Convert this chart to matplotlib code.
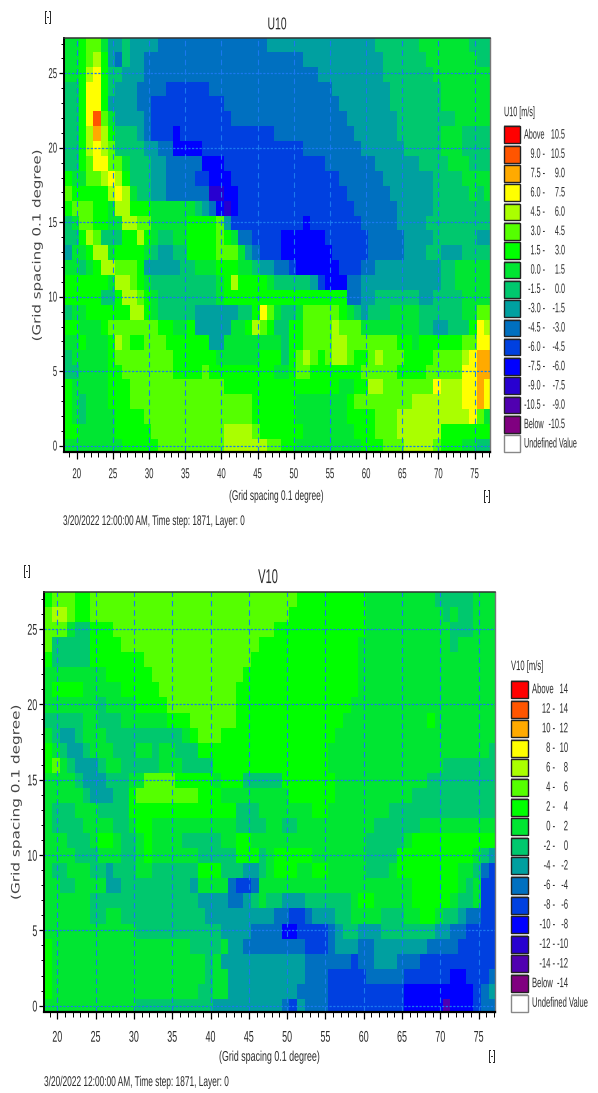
import numpy as np
import matplotlib
matplotlib.use('Agg')
import matplotlib.pyplot as plt
from matplotlib.colors import ListedColormap, BoundaryNorm
from matplotlib.patches import Rectangle
from matplotlib.patheffects import AbstractPathEffect
from matplotlib.transforms import Affine2D

W, H = 598, 1093
FONT = 'Liberation Sans'

# class letters, highest class first
class_letters = 'abcdefghijklmnop'
class_colors = ['#ff0000', '#ff5500', '#ffaa00', '#ffff00', '#aaff00', '#55ff00', '#00ff00', '#00e632',
                '#00c86e', '#00a0a0', '#0070c0', '#0040e0', '#0000ff', '#2800d0', '#5000b0', '#800080']

u10_legend = [('Above', '10.5'), ('9.0 -', '10.5'), ('7.5 -', '9.0'), ('6.0 -', '7.5'), ('4.5 -', '6.0'),
              ('3.0 -', '4.5'), ('1.5 -', '3.0'), ('0.0 -', '1.5'), ('-1.5 -', '0.0'), ('-3.0 -', '-1.5'),
              ('-4.5 -', '-3.0'), ('-6.0 -', '-4.5'), ('-7.5 -', '-6.0'), ('-9.0 -', '-7.5'),
              ('-10.5 -', '-9.0'), ('Below', '-10.5')]
v10_legend = [('Above', '14'), ('12 -', '14'), ('10 -', '12'), ('8 -', '10'), ('6 -', '8'), ('4 -', '6'),
              ('2 -', '4'), ('0 -', '2'), ('-2 -', '0'), ('-4 -', '-2'), ('-6 -', '-4'), ('-8 -', '-6'),
              ('-10 -', '-8'), ('-12 -', '-10'), ('-14 -', '-12'), ('Below', '-14')]

x_ticks = [20, 25, 30, 35, 40, 45, 50, 55, 60, 65, 70, 75]
y_ticks = [0, 5, 10, 15, 20, 25]
stamp = '3/20/2022 12:00:00 AM, Time step: 1871, Layer: 0'

# wind classes per grid row, row 27 down to row 0, as letter + run length
u10_rows = [
    'h2 g1 f2 h1 j2 i1 j4 k15 j15 i6 h7 i3',
    'h2 g1 f1 e1 g1 j1 k1 i1 j2 k22 j11 i6 h7 i2',
    'h2 g1 e1 d1 g1 i2 j3 k24 j9 i7 h8',
    'i2 g1 d2 g1 i1 j3 k4 l6 k17 j8 i7 h7',
    'i2 g1 d2 g1 j4 k2 l10 k16 j7 i7 h7',
    'i2 g1 d1 b1 f1 h1 j4 k1 l11 k16 j7 i8 h5',
    'i2 g1 e1 c1 e1 g1 i3 j1 k1 l3 m1 l13 k11 j6 i6 h3 i4',
    'i2 g1 e1 d1 e1 f1 i4 j2 k2 m4 l14 k8 j6 i5 h3 i4',
    'i2 g1 f1 d2 f2 h1 i3 j2 k5 m3 l14 k7 j6 i4 h3 i3',
    'g1 h2 f2 e1 d1 e1 g1 i3 j2 k4 l2 m3 l15 k6 j7 i4 h4',
    'f1 g5 e1 d1 e1 h1 i2 j2 k6 n2 m2 l15 k6 j6 i5 h1 i1 h1',
    'g1 f3 g2 h1 e2 g3 h6 i1 j1 k1 m1 n1 m1 l16 k6 j5 i8',
    'i1 h1 f2 g2 h2 e2 f2 h5 g4 f1 j1 l10 m1 l7 k5 j4 i9',
    'i2 g1 e1 f1 i3 g2 e1 g1 h1 i2 h2 g4 f1 g1 h1 k2 l4 m6 l6 k5 j4 i6 j2',
    'j1 h2 g1 e2 h1 g4 h1 i1 j2 i2 g4 f3 h1 j1 k1 l3 m7 l5 k5 j3 i2 j3 i4',
    'h2 i1 h1 g1 e2 f3 g1 j5 i2 h3 g3 h2 i1 j2 k2 l1 m6 l3 k2 j9 i2 h5',
    'g6 h1 e2 f1 g1 h1 i9 h1 g1 e1 g4 h1 i5 j1 l1 m3 k2 j11 i2 h5',
    'g5 i2 g1 e2 f1 g1 h1 i8 h1 g17 k2 j2 i6 j2 i4 h4',
    'i1 h2 g6 e2 g1 h1 i5 j6 i2 g1 d1 f1 h1 i2 h1 f5 g1 h1 i1 j1 i3 h4 i6 h2 f2',
    'g2 h3 g1 f7 g2 h2 g1 j5 h2 g1 e1 f1 g1 i2 g2 f4 e1 f3 h8 i2 j2 i3 g1 d1 e1',
    'h2 g1 h3 g1 e1 f1 g2 f3 g6 j2 h8 i1 g2 f4 e2 f7 g2 h1 g6 f2 d2',
    'i1 h5 g1 f8 g6 h6 g3 i1 g1 f1 e1 f1 g1 f1 e2 f1 g2 f1 e1 f3 g4 f4 e1 d1 c2',
    'i2 h4 g2 f7 g4 f1 g9 h2 g1 f2 g7 f5 g4 f5 d2 c2',
    'g1 h5 g3 f13 g16 h2 g2 e2 f7 d1 e3 d2 c1 d1',
    'g1 h1 i1 h3 g3 f17 g6 h7 g1 f8 e7 d2 c1 d1',
    'g1 h1 i1 h4 g4 f15 g6 h7 g4 f3 e10 d1 f1 h1',
    'g2 h5 g5 f10 e4 f1 g6 h7 g3 f3 e6 g7',
    'h8 g5 f9 e6 f2 g2 h9 g3 f3 e4 f1 g3 h2 i2',
]
v10_rows = [
    'g1 f3 g2 f27 g9 h9 i5 h3',
    'f1 e2 f1 g2 f26 g10 h10 i1 h1 i2 h3',
    'f3 h1 i2 g3 f21 g12 h11 i3 h3',
    'f1 i5 g4 f18 g13 h12 i1 h5',
    'g1 i5 g7 f14 g14 h18',
    'h8 g6 f12 g15 h18',
    'h1 g4 h5 g5 f10 g16 h18',
    'h7 i1 h4 g4 f9 g15 h19',
    'i5 h2 i3 h6 g3 f6 g14 h11 g1 h8',
    'h1 i1 j2 i1 h3 i10 h1 g1 f3 g15 h21',
    'g1 h1 i1 j2 i1 h3 i3 h2 i1 h2 i3 g17 h21 i1',
    'g1 f1 h1 i1 j3 i1 h2 i5 h3 i4 g15 h15 i7',
    'h4 i1 j3 i3 h2 f4 g5 h1 g3 i5 g7 h12 i9',
    'h5 i1 j3 i2 g1 f8 g3 h9 g6 h10 i11',
    'h1 i3 h3 i4 g14 i3 h7 g2 h8 i14',
    'h1 i4 h4 i2 h1 g2 h11 i4 h2 i2 h10 i6 h10',
    'h3 i3 h1 g2 h1 i2 h1 g1 h4 i5 h2 g2 h15 i5 h1 g11',
    'h4 i3 h3 i2 h1 g1 h6 i5 g3 i1 h1 g5 h7 i4 g10 h1 i1 j1',
    'h1 i2 h3 i2 j1 i3 h2 i6 g3 i3 j2 i1 h1 g3 h2 g2 h5 i3 h1 g8 h2 i1 k1 l1',
    'h2 i2 h4 j2 i9 j1 h4 k1 l2 k1 h20 g6 h1 i1 h1 l2',
    'h6 i14 j4 k2 j1 i1 h1 i2 j3 i6 h1 g2 h5 g5 h1 i2 h1 l2',
    'h6 i2 h2 i11 j9 k2 l2 k1 j3 i2 h4 i3 h2 g2 h1 i2 j1 k2 l2',
    'h12 i11 j4 k4 m2 l1 l3 k1 j1 i2 j3 i7 j2 k2 l4',
    'g1 h18 i4 h1 j2 k8 l3 k1 j3 k2 j7 k4 l5',
    'g1 h20 i1 h1 j11 k6 l1 k2 j3 k3 l10',
    'g1 h20 i1 h2 j10 k3 l5 k5 l6 m2 l3 k1',
    'g1 h19 i2 h2 j9 k4 l10 m9 l1 k1 j1',
    'h12 i10 j9 k1 l1 j1 k3 l10 m5 o1 m3 l1 k2',
]


class Tall(AbstractPathEffect):
    # stretches text across its baseline, the reference was resized unevenly
    def __init__(self, sy):
        super().__init__()
        self.sy = sy

    def draw_path(self, renderer, gc, tpath, affine, rgbFace=None):
        ext = tpath.get_extents()
        mid = (ext.y0 + ext.y1) / 2
        t = Affine2D().translate(0, -mid).scale(1, self.sy).translate(0, mid)
        renderer.draw_path(gc, tpath, t + affine, rgbFace)


def read_rows(rows):
    grid = []
    for r in rows:
        line = []
        for run in r.split():
            line += [class_letters.index(run[0])] * int(run[1:])
        grid.append(line)
    return np.array(grid)[::-1]


def put_text(fig, x, y, s, size, sy, ha='left', **kw):
    t = fig.text(x / W, 1 - y / H, s, fontsize=size, family=FONT, ha=ha, va='center', color='#2b2b2b', **kw)
    t.set_path_effects([Tall(sy)])
    return t


def draw_map(fig, rows, box, xlim, ylim, tick_size, tick_sy, x_pad):
    left, right, top, bottom = box
    ax = fig.add_axes([left / W, 1 - bottom / H, (right - left) / W, (bottom - top) / H])
    grid = read_rows(rows)
    x_edges = 18.3 + np.arange(grid.shape[1] + 1)
    y_edges = -0.55 + np.arange(grid.shape[0] + 1)
    cmap = ListedColormap(class_colors)
    norm = BoundaryNorm(np.arange(17) - 0.5, 16)
    ax.pcolormesh(x_edges, y_edges, grid, cmap=cmap, norm=norm, antialiased=False, zorder=1)
    ax.set_xlim(*xlim)
    ax.set_ylim(*ylim)

    ax.set_xticks(x_ticks)
    ax.set_yticks(y_ticks)
    ax.set_xticks(np.arange(19, 78), minor=True)
    ax.set_yticks(np.arange(0, 28), minor=True)
    ax.tick_params(axis='x', which='major', length=5, width=0.9, pad=x_pad, labelsize=tick_size, labelcolor='#2b2b2b')
    ax.tick_params(axis='y', which='major', length=3.5, width=0.9, pad=1.5, labelsize=tick_size, labelcolor='#2b2b2b')
    ax.tick_params(axis='x', which='minor', length=3.5, width=0.7)
    ax.tick_params(axis='y', which='minor', length=2, width=0.7)
    for lab in ax.get_xticklabels() + ax.get_yticklabels():
        lab.set_family(FONT)
        lab.set_path_effects([Tall(tick_sy)])

    ax.grid(False)
    for v in x_ticks:
        ax.axvline(v, color='#1a78f0', lw=0.8, ls=(0, (5, 3.5)), zorder=2)
    for v in y_ticks:
        ax.axhline(v, color='#1a78f0', lw=0.9, ls=(0, (1.8, 1.2)), zorder=2)

    ax.spines['left'].set_linewidth(1.4)
    ax.spines['bottom'].set_linewidth(1.6)
    ax.spines['top'].set_linewidth(1.1)
    ax.spines['top'].set_color('#333333')
    ax.spines['right'].set_linewidth(1.0)
    ax.spines['right'].set_color('#777777')
    return ax


def draw_legend(fig, title, labels, x0, x1, y0, step, title_y, x_first, x_second, x_word, size, sy):
    put_text(fig, x0, title_y, title, size, sy)
    h = step - 2.6
    for i in range(17):
        top = y0 + i * step
        color = class_colors[i] if i < 16 else 'white'
        fig.add_artist(Rectangle((x0 / W, 1 - (top + h + 1) / H), (x1 - x0) / W, (h + 2) / H,
                                 transform=fig.transFigure, facecolor='#b5b5b5', edgecolor='none'))
        fig.add_artist(Rectangle((x0 / W, 1 - (top + h) / H), (x1 - x0) / W, h / H,
                                 transform=fig.transFigure, facecolor=color,
                                 edgecolor='#222222' if i < 16 else '#888888', lw=1.0))
        cy = top + h / 2
        if i == 16:
            put_text(fig, x_word, cy, 'Undefined Value', size, sy)
            continue
        a, b = labels[i]
        if a in ('Above', 'Below'):
            put_text(fig, x_word, cy, a, size, sy)
        else:
            put_text(fig, x_first, cy, a, size, sy, ha='right')
        put_text(fig, x_second, cy, b, size, sy, ha='right')


def side_label(fig, x, y, size):
    t = fig.text(x / W, 1 - y / H, '(Grid spacing 0.1 degree)', rotation=90, fontsize=size, family='DejaVu Sans',
                 ha='center', va='center', color='#444444')
    t.set_path_effects([Tall(0.75)])


fig = plt.figure(figsize=(W / 100, H / 100), dpi=100, facecolor='white')

# upper panel
draw_map(fig, u10_rows, (64, 490, 38, 452), (18.24, 77.14), (-0.42, 27.37), 5.6, 1.85, 8.6)
put_text(fig, 277, 24, 'U10', 7.5, 1.64, ha='center')
put_text(fig, 48, 18, '[-]', 5.5, 1.9, ha='center')
side_label(fig, 37, 245, 10.8)
put_text(fig, 277, 497, '(Grid spacing 0.1 degree)', 6.0, 1.67, ha='center')
put_text(fig, 487, 497, '[-]', 5.5, 1.9, ha='center')
put_text(fig, 63, 522, stamp, 5.9, 1.7)
draw_legend(fig, 'U10 [m/s]', u10_legend, 504, 520, 126.5, 19.3, 113, 545, 565, 524, 5.2, 1.9)

# lower panel
draw_map(fig, v10_rows, (44.3, 495, 592.3, 1012.3), (18.3, 77.13), (-0.44, 27.43), 6.4, 1.75, 9.5)
put_text(fig, 268, 577, 'V10', 8, 1.8, ha='center')
put_text(fig, 27, 572, '[-]', 5.5, 1.9, ha='center')
side_label(fig, 16, 802, 11)
put_text(fig, 270, 1057, '(Grid spacing 0.1 degree)', 6.4, 1.6, ha='center')
put_text(fig, 492, 1057, '[-]', 5.5, 1.9, ha='center')
put_text(fig, 44, 1083, stamp, 6.0, 1.7)
draw_legend(fig, 'V10 [m/s]', v10_legend, 511, 528, 681, 19.6, 667, 555, 568, 532, 5.5, 1.8)

fig.savefig('out.png', dpi=100)
